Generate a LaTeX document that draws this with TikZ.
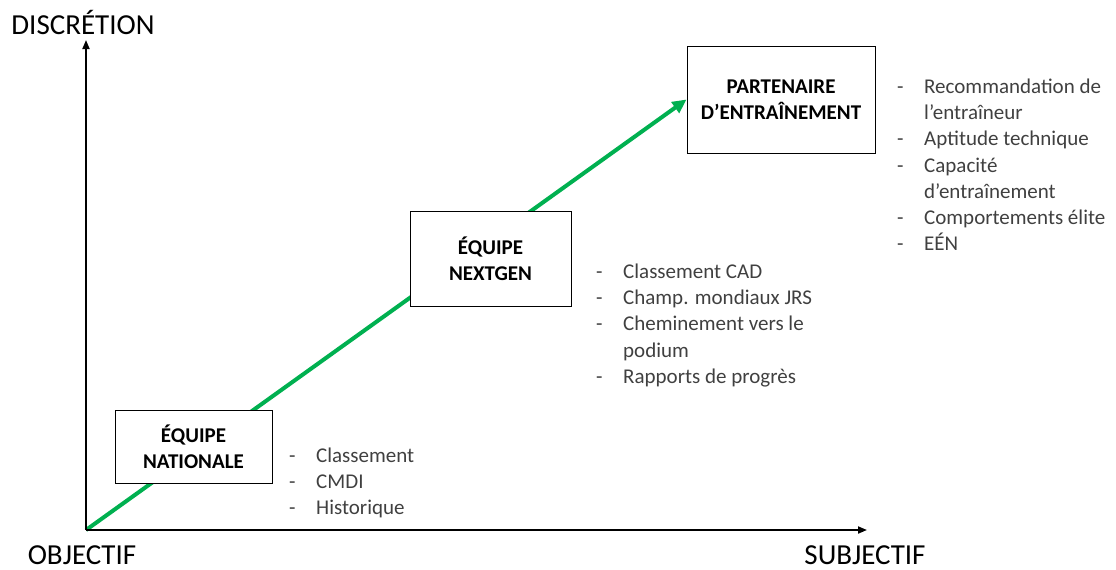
\documentclass[tikz,border=0pt]{standalone}
\usepackage{fontspec}
\setmainfont{Carlito}
\usetikzlibrary{arrows.meta,backgrounds}
\definecolor{pathgreen}{RGB}{0,176,80}
\definecolor{listgray}{RGB}{64,64,64}
\newcommand\itm[1]{\makebox[27pt][l]{-}#1}
\newcommand\cont[1]{\hspace*{27pt}#1}

\begin{document}
\begin{tikzpicture}[x=1pt,y=-1pt,
  axis/.style={line width=1.8pt, -{Triangle[length=9pt,width=7pt]}},
  stage/.style={draw=black, line width=1pt, fill=white, align=center,
    font=\fontsize{21}{26.5}\selectfont\bfseries, inner sep=0pt},
  % first line starts with a strut 18.2pt high, so top = baseline - 18.2
  criteria/.style={anchor=north west, align=left, text=listgray,
    font=\fontsize{21}{26.2}\selectfont, inner sep=0pt,
    execute at begin node=\strut},
  axislabel/.style={font=\fontsize{29}{34}\selectfont, inner sep=0pt}
]
\useasboundingbox (0,0) rectangle (1116,570);

% axes
\coordinate (O) at (86,530);
\coordinate (ytop) at (86,40);
\coordinate (xend) at (867,530);
\draw[axis] (O) -- (ytop);
\draw[axis] (O) -- (xend);

\node[axislabel] (lblv) at (83,22) {DISCRÉTION};
\node[axislabel] (lblo) at (82,555) {OBJECTIF};
\node[axislabel] (lbls) at (865,555) {SUBJECTIF};

% stages
\node[stage, minimum width=157pt, minimum height=73pt] (nat) at (193.5,446.5) {ÉQUIPE\\NATIONALE};
\node[stage, minimum width=161pt, minimum height=95pt] (next) at (490.5,258.5) {ÉQUIPE\\NEXTGEN};
\node[stage, minimum width=188pt, minimum height=107pt] (part) at (781,99.5) {PARTENAIRE\\D’ENTRAÎNEMENT};

% progression arrow behind the boxes
\begin{scope}[on background layer]
\draw[line width=4pt, pathgreen, -{Triangle[length=14pt,width=13pt]}] (O) -- (part.west);
\end{scope}

% criteria lists
\node[criteria] (c1) at (289,447.8) {\itm{Classement}\\\itm{CMDI}\\\itm{Historique}};
\node[criteria] (c2) at (596,263.8) {\itm{Classement CAD}\\\itm{Champ. mondiaux JRS}\\\itm{Cheminement vers le}\\\cont{podium}\\\itm{Rapports de progrès}};
\node[criteria] (c3) at (897,78.8) {\itm{Recommandation de}\\\cont{l’entraîneur}\\\itm{Aptitude technique}\\\itm{Capacité}\\\cont{d’entraînement}\\\itm{Comportements élite}\\\itm{EÉN}};
\end{tikzpicture}
\end{document}
